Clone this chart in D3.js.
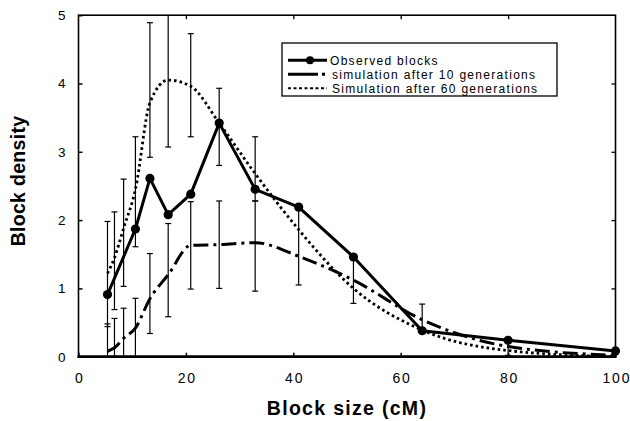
<!DOCTYPE html>
<html>
<head>
<meta charset="utf-8">
<script src="https://cdn.jsdelivr.net/npm/d3@7"></script>
<style>
  html, body { margin: 0; padding: 0; background: #fff; }
  svg { display: block; }
  text { font-family: "Liberation Sans", Arial, Helvetica, sans-serif; fill: #000; }
</style>
</head>
<body>
<svg id="chart" width="630" height="421"></svg>
<script>
// ---- data ----
const simX = [5.4, 6.7, 8.4, 10.6, 13.3, 16.7, 20.9, 26.2, 32.9, 41.0, 51.2, 64.0, 80, 100];
const sim10 = [0.08, 0.13, 0.27, 0.42, 0.85, 1.2, 1.63, 1.64, 1.67, 1.47, 1.12, 0.54, 0.15, 0.02];
const sim60 = [1.22, 1.45, 1.88, 2.45, 3.72, 4.05, 3.96, 3.42, 2.68, 1.86, 1.0, 0.39, 0.09, 0.0];
const obsX = [5.4, 10.6, 13.3, 16.7, 20.9, 26.2, 32.9, 41.0, 51.2, 64.0, 80, 100];
const obsY = [0.91, 1.87, 2.61, 2.08, 2.38, 3.42, 2.45, 2.19, 1.46, 0.38, 0.24, 0.085];
// error bars: x, low, high
const errX  = [5.4, 5.4, 6.7, 6.7, 8.4, 8.4, 10.6, 10.6, 13.3, 13.3, 16.7, 16.7, 20.9, 20.9, 26.2, 26.2, 32.9, 32.9, 41.0, 51.2, 64.0, 80];
const errLo = [0.44, 0.0, 0.69, 0.0, 1.03, 0.0, 1.61, 0.0, 2.92, 0.34, 3.07, 0.585, 3.22, 0.99, 2.80, 1.00, 2.28, 0.96, 1.05, 0.78, 0.37, 0.02];
const errHi = [1.98, 0.48, 2.12, 0.56, 2.60, 0.71, 3.22, 0.855, 4.89, 1.51, 5.0, 1.95, 4.73, 2.27, 3.93, 2.28, 3.22, 2.28, 2.20, 1.46, 0.77, 0.27];
const xTicks = [0, 20, 40, 60, 80, 100];
const yTicks = [0, 1, 2, 3, 4, 5];
const legendLabels = ["Observed blocks", "simulation after 10 generations", "Simulation after 60 generations"];

// ---- layout ----
const svg = d3.select("#chart");
const L = 78.5, R = 615.5, T = 15.2, B = 356.7;
const x = d3.scaleLinear().domain([0, 100]).range([L, R]);
const y = d3.scaleLinear().domain([0, 5]).range([B, T]);

// frame
svg.append("rect").attr("x", L).attr("y", T).attr("width", R - L).attr("height", B - T)
  .attr("fill", "none").attr("stroke", "#000").attr("stroke-width", 1.6);
svg.append("line").attr("x1", L - 1).attr("x2", R + 1).attr("y1", B).attr("y2", B)
  .attr("stroke", "#000").attr("stroke-width", 2.8);

// bottom axis
const xAxis = svg.append("g").attr("transform", `translate(0,${B})`)
  .call(d3.axisBottom(x).tickValues(xTicks).tickSize(-4).tickPadding(16.5).tickFormat(d3.format("d")));
xAxis.select(".domain").remove();
xAxis.selectAll("line").attr("stroke", "#000").attr("stroke-width", 1.5);
xAxis.selectAll("text").attr("font-size", 14).attr("letter-spacing", "1.8px").attr("dx", "0.9px")
  .attr("font-family", "Liberation Sans, Arial, sans-serif").attr("fill", "#000");

// top ticks
const xTop = svg.append("g").attr("transform", `translate(0,${T})`)
  .call(d3.axisTop(x).tickValues(xTicks.slice(1, -1)).tickSize(-4).tickFormat(""));
xTop.select(".domain").remove();
xTop.selectAll("line").attr("stroke", "#000").attr("stroke-width", 1.3);

// left axis
const yAxis = svg.append("g").attr("transform", `translate(${L},0)`)
  .call(d3.axisLeft(y).tickValues(yTicks).tickSize(-4).tickPadding(13).tickFormat(d3.format("d")));
yAxis.select(".domain").remove();
yAxis.selectAll("line").attr("stroke", "#000").attr("stroke-width", 1.5);
yAxis.selectAll("text").attr("font-size", 13.5)
  .attr("font-family", "Liberation Sans, Arial, sans-serif").attr("fill", "#000");

// right ticks
const yRight = svg.append("g").attr("transform", `translate(${R},0)`)
  .call(d3.axisRight(y).tickValues(yTicks.slice(1, -1)).tickSize(-4).tickFormat(""));
yRight.select(".domain").remove();
yRight.selectAll("line").attr("stroke", "#000").attr("stroke-width", 1.3);

// axis titles
svg.append("text").attr("x", 347).attr("y", 415).attr("text-anchor", "middle")
  .attr("font-size", 19.5).attr("font-weight", "bold").attr("letter-spacing", "1.3px")
  .text("Block size (cM)");
svg.append("text").attr("transform", "translate(25,181) rotate(-90)").attr("text-anchor", "middle")
  .attr("font-size", 19.5).attr("font-weight", "bold").attr("letter-spacing", "0.3px")
  .text("Block density");

// error bars
const plot = svg.append("g");
const errs = errX.map((d, i) => ({ x: d, lo: errLo[i], hi: errHi[i] }));
const eg = plot.append("g").attr("stroke", "#000").attr("stroke-width", 1.2);
errs.forEach(e => {
  eg.append("line").attr("x1", x(e.x)).attr("x2", x(e.x)).attr("y1", y(e.lo)).attr("y2", y(e.hi));
  if (e.hi < 5) eg.append("line").attr("x1", x(e.x) - 3).attr("x2", x(e.x) + 3).attr("y1", y(e.hi)).attr("y2", y(e.hi));
  if (e.lo > 0) eg.append("line").attr("x1", x(e.x) - 3).attr("x2", x(e.x) + 3).attr("y1", y(e.lo)).attr("y2", y(e.lo));
});

// simulation lines
const simLine = d3.line().x(d => x(d[0])).y(d => y(d[1])).curve(d3.curveMonotoneX);
plot.append("path").datum(simX.map((d, i) => [d, sim60[i]]))
  .attr("d", simLine).attr("fill", "none").attr("stroke", "#000")
  .attr("stroke-width", 2.8).attr("stroke-dasharray", "2.6,3");
plot.append("path").datum(simX.map((d, i) => [d, sim10[i]]))
  .attr("d", simLine).attr("fill", "none").attr("stroke", "#000")
  .attr("stroke-width", 3).attr("stroke-dasharray", "15,5,3,5");

// observed
const obsLine = d3.line().x(d => x(d[0])).y(d => y(d[1]));
const obs = obsX.map((d, i) => [d, obsY[i]]);
plot.append("path").datum(obs).attr("d", obsLine).attr("fill", "none")
  .attr("stroke", "#000").attr("stroke-width", 3).attr("stroke-linejoin", "round");
plot.selectAll("circle.obs").data(obs).enter().append("circle").attr("class", "obs")
  .attr("cx", d => x(d[0])).attr("cy", d => y(d[1])).attr("r", 4.6).attr("fill", "#000");

// legend
const lg = svg.append("g");
lg.append("rect").attr("x", 282).attr("y", 43).attr("width", 275).attr("height", 53)
  .attr("fill", "#fff").attr("stroke", "#000").attr("stroke-width", 1.3);
const rows = [60.3, 74.3, 88.3];
lg.append("line").attr("x1", 288).attr("x2", 327).attr("y1", rows[0]).attr("y2", rows[0])
  .attr("stroke", "#000").attr("stroke-width", 3);
lg.append("circle").attr("cx", 310).attr("cy", rows[0]).attr("r", 4).attr("fill", "#000");
lg.append("line").attr("x1", 288).attr("x2", 327).attr("y1", rows[1]).attr("y2", rows[1])
  .attr("stroke", "#000").attr("stroke-width", 3).attr("stroke-dasharray", "30,4,3,10");
lg.append("line").attr("x1", 288).attr("x2", 327).attr("y1", rows[2]).attr("y2", rows[2])
  .attr("stroke", "#000").attr("stroke-width", 2).attr("stroke-dasharray", "3,2.5");
legendLabels.forEach((t, i) => {
  lg.append("text").attr("x", i === 0 ? 330 : 332).attr("y", rows[i] + 4.3)
    .attr("font-size", 12).attr("letter-spacing", "1.3px").text(t);
});
</script>
</body>
</html>
